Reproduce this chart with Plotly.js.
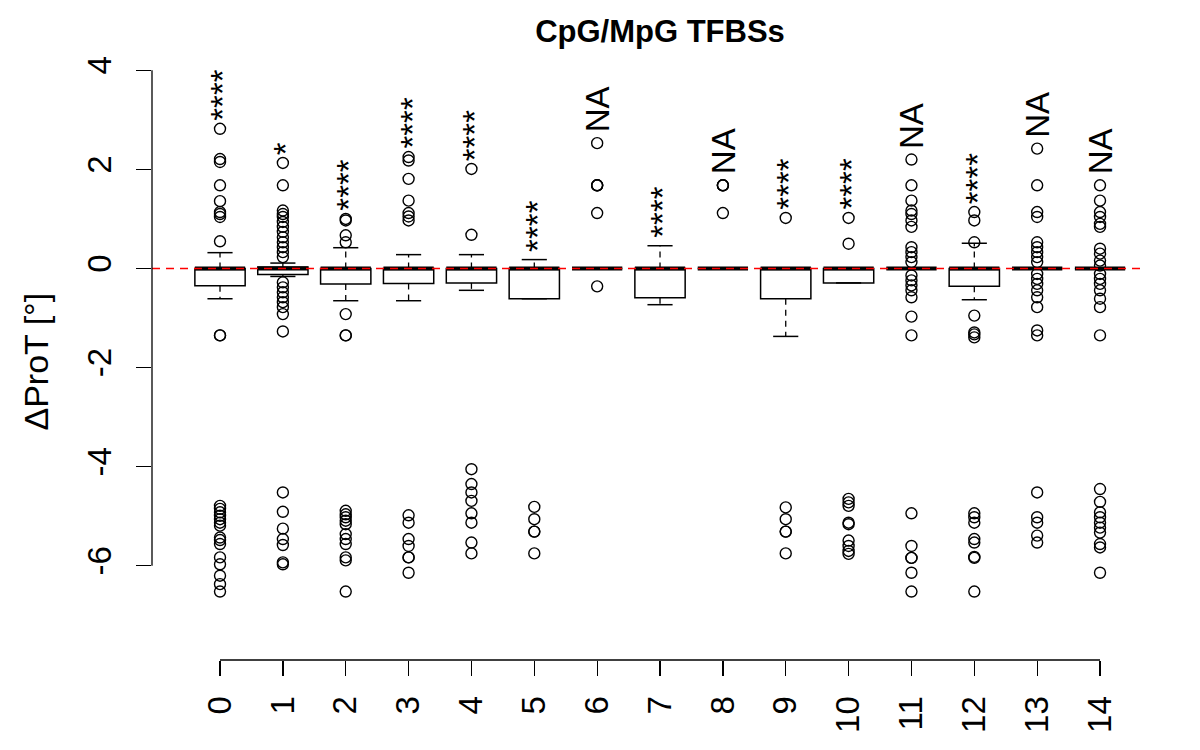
<!DOCTYPE html>
<html><head><meta charset="utf-8">
<script src="https://cdn.plot.ly/plotly-3.0.1.min.js"></script>
<style>html,body{margin:0;padding:0;background:#fff}</style>
</head><body><div id="chart" style="width:1200px;height:750px"></div>
<script>
// ---- data ----
const categories = [0, 1, 2, 3, 4, 5, 6, 7, 8, 9, 10, 11, 12, 13, 14];
const q1          = [-0.35, -0.12, -0.31, -0.30, -0.29, -0.61, 0, -0.59, 0, -0.61, -0.29, 0, -0.36, 0, 0];
const median      = [0, 0, 0, 0, 0, 0, 0, 0, 0, 0, 0, 0, 0, 0, 0];
const q3          = [0, 0.03, 0, 0, 0, 0, 0, 0, 0, 0, 0, 0, 0, 0, 0];
const whiskerLow  = [-0.61, -0.16, -0.65, -0.65, -0.44, -0.61, 0, -0.73, 0, -1.37, -0.29, 0, -0.63, 0, 0];
const whiskerHigh = [0.32, 0.11, 0.42, 0.28, 0.28, 0.18, 0, 0.46, 0, 0, 0, 0, 0.51, 0, 0];

const out0  = [2.82, 2.21, 2.15, 1.68, 1.36, 1.14, 1.10, 1.04, 0.55, -1.35, -1.35,
               -4.79, -4.85, -4.92, -4.99, -5.06, -5.13, -5.19, -5.43, -5.48, -5.56, -5.83, -5.97, -6.20, -6.37, -6.52];
const out1  = [2.13, 1.68, 1.17, 1.10, 1.04, 0.94, 0.84, 0.74, 0.63, 0.53, 0.43, 0.33, 0.23,
               -0.28, -0.38, -0.48, -0.58, -0.68, -0.78, -0.92, -1.27,
               -4.52, -4.91, -5.25, -5.46, -5.58, -5.93, -5.97];
const out2  = [1.00, 0.97, 0.67, 0.53, -0.92, -1.35, -1.35,
               -4.89, -4.96, -5.02, -5.09, -5.16, -5.36, -5.46, -5.56, -5.83, -5.89, -6.52];
const out3  = [2.25, 2.18, 1.81, 1.37, 1.12, 1.05, 0.97,
               -4.98, -5.13, -5.46, -5.60, -5.83, -5.83, -6.14];
const out4  = [2.01, 0.68,
               -4.05, -4.35, -4.52, -4.69, -4.94, -5.13, -5.53, -5.75];
const out5  = [-4.81, -5.06, -5.31, -5.31, -5.75];
const out6  = [2.53, 1.68, 1.68, 1.68, 1.12, -0.36];
const out7  = [];
const out8  = [1.68, 1.68, 1.68, 1.12];
const out9  = [1.02, -4.82, -5.06, -5.31, -5.31, -5.75];
const out10 = [1.02, 0.50,
               -4.65, -4.72, -4.79, -5.13, -5.16, -5.49, -5.60, -5.70, -5.76];
const out11 = [2.20, 1.68, 1.37, 1.17, 1.10, 0.97, 0.84, 0.43, 0.33, 0.23, 0.13,
               -0.14, -0.24, -0.34, -0.44, -0.58, -0.97, -1.35,
               -4.94, -5.60, -5.84, -5.84, -6.14, -6.52];
const out12 = [1.14, 0.97, 0.53, -0.95, -1.29, -1.33, -1.39,
               -4.94, -5.02, -5.13, -5.46, -5.53, -5.82, -5.84, -6.52];
const out13 = [2.42, 1.68, 1.14, 1.04, 0.53, 0.43, 0.33, 0.23, 0.13,
               -0.11, -0.21, -0.31, -0.44, -0.58, -0.78, -1.25, -1.35,
               -4.52, -5.02, -5.13, -5.39, -5.53];
const out14 = [1.68, 1.37, 1.14, 1.04, 0.90, 0.84, 0.40, 0.30, 0.16, 0.06,
               -0.11, -0.21, -0.31, -0.44, -0.61, -0.78, -1.35,
               -4.45, -4.71, -4.92, -5.02, -5.13, -5.23, -5.33, -5.56, -5.63, -6.14];
const outliers = [out0, out1, out2, out3, out4, out5, out6, out7, out8, out9, out10, out11, out12, out13, out14];

const significance = ["****", "*", "****", "****", "****", "****", "NA", "****", "NA", "****", "****", "NA", "****", "NA", "NA"];
const yTicks = [-6, -4, -2, 0, 2, 4];
const titleText = "CpG/MpG TFBSs";
const yTitle = "\u0394ProT [\u00b0]";

// ---- build traces ----
const FONT = "Liberation Sans, Arial, Helvetica, sans-serif";
const BOXW = 0.8, CAPW = 0.4;

const boxTrace = {
  type: "box", x: categories, q1: q1, median: median, q3: q3,
  lowerfence: q1, upperfence: q3, width: BOXW, whiskerwidth: 0,
  boxpoints: false, fillcolor: "rgba(0,0,0,0)",
  line: {color: "black", width: 1.5}, showlegend: false, hoverinfo: "skip"
};

const wx = [], wy = [], cx = [], cy = [], mx = [], my = [];
categories.forEach((c, i) => {
  wx.push(c, c, null, c, c, null);
  wy.push(q3[i], whiskerHigh[i], null, q1[i], whiskerLow[i], null);
  cx.push(c - CAPW / 2, c + CAPW / 2, null, c - CAPW / 2, c + CAPW / 2, null);
  cy.push(whiskerHigh[i], whiskerHigh[i], null, whiskerLow[i], whiskerLow[i], null);
  mx.push(c - BOXW / 2, c + BOXW / 2, null);
  my.push(median[i], median[i], null);
});
const whiskerTrace = {type: "scatter", mode: "lines", x: wx, y: wy, connectgaps: false,
  line: {color: "black", width: 1.3, dash: "6px,5px"}, showlegend: false, hoverinfo: "skip"};
const capTrace = {type: "scatter", mode: "lines", x: cx, y: cy, connectgaps: false,
  line: {color: "black", width: 1.5}, showlegend: false, hoverinfo: "skip"};
const medianTrace = {type: "scatter", mode: "lines", x: mx, y: my, connectgaps: false,
  line: {color: "black", width: 4}, showlegend: false, hoverinfo: "skip"};

const ox = [], oy = [];
outliers.forEach((arr, i) => arr.forEach(v => { ox.push(categories[i]); oy.push(v); }));
const outlierTrace = {type: "scatter", mode: "markers", x: ox, y: oy,
  marker: {symbol: "circle-open", size: 11, color: "black", line: {width: 1.4, color: "black"}},
  showlegend: false, hoverinfo: "skip"};

const annotations = categories.map((c, i) => {
  const top = Math.max(whiskerHigh[i], q3[i], ...outliers[i]);
  const isNA = significance[i] === "NA";
  return {x: c, y: top, xref: "x", yref: "y", text: significance[i], showarrow: false,
    textangle: -90, yanchor: "bottom", xanchor: "center", yshift: isNA ? 9 : 6,
    xshift: isNA ? 0 : 3, font: {family: FONT, size: 33, color: "black"}};
});
annotations.push({xref: "paper", yref: "paper", x: -0.117, y: 0.482, text: yTitle,
  showarrow: false, textangle: -90, xanchor: "center", yanchor: "middle",
  font: {family: FONT, size: 34, color: "black"}});

const layout = {
  width: 1200, height: 750,
  margin: {l: 152, r: 60, t: 40, b: 90},
  paper_bgcolor: "white", plot_bgcolor: "white",
  font: {family: FONT, color: "black"},
  title: {text: titleText, font: {family: FONT, size: 31, weight: "bold", color: "black"},
    xref: "container", yref: "container", x: 0.55, xanchor: "center", y: 1 - 31 / 750, yanchor: "middle"},
  xaxis: {range: [-1.082, 14.636], tickvals: categories, ticktext: categories.map(String),
    tickangle: -90, ticks: "outside", ticklen: 15, tickwidth: 1.3, tickcolor: "black",
    showline: false, showgrid: false, zeroline: false, ticklabelstandoff: 7,
    tickfont: {family: FONT, size: 33, color: "black"}},
  yaxis: {range: [-7.901, 4.612], tickvals: yTicks, ticktext: yTicks.map(String),
    tickangle: -90, ticks: "outside", ticklen: 15, tickwidth: 1.3, tickcolor: "black",
    showline: false, showgrid: false, zeroline: false, ticklabelstandoff: 12,
    tickfont: {family: FONT, size: 33, color: "black"}},
  shapes: [
    {type: "line", xref: "paper", x0: 0, x1: 1, yref: "y", y0: 0, y1: 0, layer: "above",
     line: {color: "red", width: 1.3, dash: "8px,6px"}},
    {type: "line", xref: "paper", x0: 0, x1: 0, yref: "y", y0: yTicks[0], y1: yTicks[yTicks.length - 1],
     line: {color: "black", width: 1.3}},
    {type: "line", xref: "x", x0: categories[0], x1: categories[categories.length - 1], yref: "paper", y0: 0, y1: 0,
     line: {color: "black", width: 1.3}}
  ],
  annotations: annotations
};

Plotly.newPlot("chart", [boxTrace, whiskerTrace, capTrace, medianTrace, outlierTrace], layout,
  {displayModeBar: false, staticPlot: true});
</script></body></html>
